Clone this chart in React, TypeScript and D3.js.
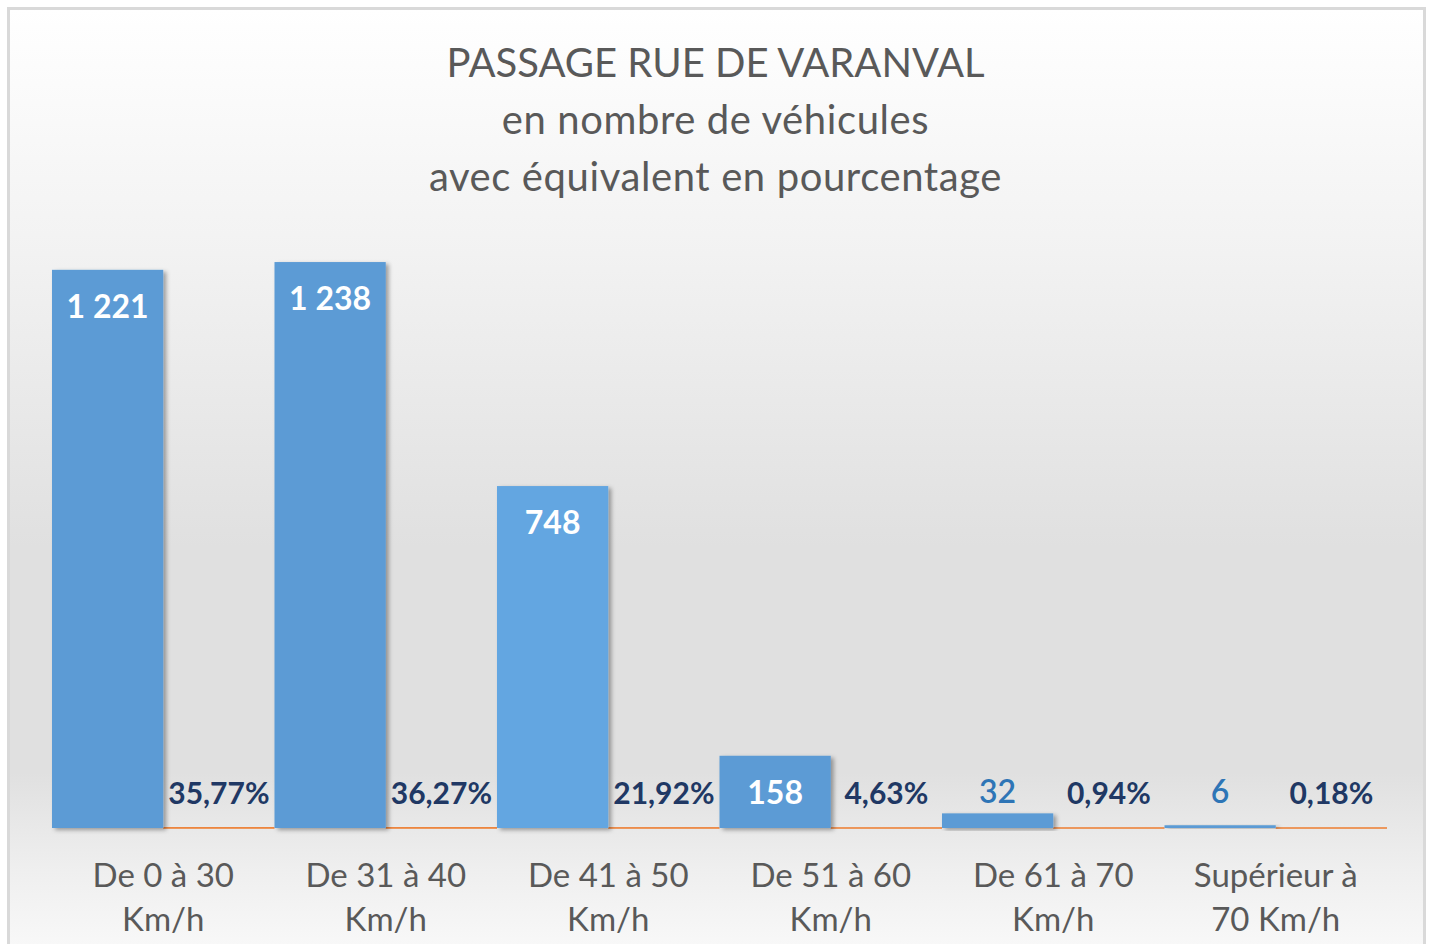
import { useRef, useEffect } from "react"
import * as d3 from "d3"

const categories = [
  "De 0 à 30 Km/h",
  "De 31 à 40 Km/h",
  "De 41 à 50 Km/h",
  "De 51 à 60 Km/h",
  "De 61 à 70 Km/h",
  "Supérieur à 70 Km/h",
]
const vehicleCounts = [1221, 1238, 748, 158, 32, 6]
const shares = [0.3577, 0.3627, 0.2192, 0.0463, 0.0094, 0.0018]
const titleLines = ["PASSAGE RUE DE VARANVAL", "en nombre de véhicules", "avec équivalent en pourcentage"]

const FONT = "Lato, 'Open Sans', sans-serif"

// greedy wrap for the category labels
const wrap = (label: string, maxChars: number) => {
  const lines: string[] = []
  let cur = ""
  label.split(" ").forEach((w) => {
    const next = cur ? cur + " " + w : w
    if (next.length > maxChars && cur) {
      lines.push(cur)
      cur = w
    } else cur = next
  })
  if (cur) lines.push(cur)
  return lines
}

const App = () => {
  const svgRef = useRef<SVGSVGElement>(null)

  useEffect(() => {
    const svg = d3.select(svgRef.current)
    svg.selectAll("*").remove()

    const W = 1431
    const H = 944

    const defs = svg.append("defs")
    const grad = defs
      .append("linearGradient")
      .attr("id", "bg")
      .attr("x1", 0)
      .attr("y1", 0)
      .attr("x2", 0)
      .attr("y2", 1)
    ;[
      [0, "#ffffff"],
      [0.25, "#f2f2f2"],
      [0.55, "#e0e0e0"],
      [0.78, "#e0e0e0"],
      [0.88, "#efefef"],
      [1, "#fdfdfd"],
    ].forEach(([o, c]) => grad.append("stop").attr("offset", o as number).attr("stop-color", c as string))

    const shadow = defs
      .append("filter")
      .attr("id", "shadow")
      .attr("x", "-10%")
      .attr("y", "-10%")
      .attr("width", "130%")
      .attr("height", "130%")
    shadow
      .append("feDropShadow")
      .attr("dx", 3)
      .attr("dy", 2)
      .attr("stdDeviation", 2)
      .attr("flood-color", "#000")
      .attr("flood-opacity", 0.35)

    // chart frame
    svg
      .append("rect")
      .attr("x", 8.5)
      .attr("y", 8.5)
      .attr("width", 1416)
      .attr("height", 980)
      .attr("fill", "url(#bg)")
      .attr("stroke", "#d9d9d9")
      .attr("stroke-width", 3)

    // title
    const title = svg
      .append("text")
      .attr("text-anchor", "middle")
      .style("font-family", FONT)
      .style("font-size", "40px")
      .style("fill", "#595959")
    titleLines.forEach((t, i) => {
      title
        .append("tspan")
        .attr("x", W / 2)
        .attr("y", 77 + i * 57)
        .style("letter-spacing", i === 0 ? "0px" : "0.6px")
        .text(t)
    })

    // scales
    const x = d3.scaleBand().domain(categories).range([52, 1387]).padding(0)
    const xSeries = d3.scaleBand().domain(["count", "share"]).range([0, x.bandwidth()]).padding(0)
    const y = d3.scaleLinear().domain([0, 1400]).range([828, 188])
    const y0 = y(0)

    // share series (tiny bars on the count scale -> orange line along the base)
    svg
      .append("g")
      .selectAll("rect")
      .data(shares)
      .enter()
      .append("rect")
      .attr("x", (_, i) => x(categories[i])! + xSeries("share")!)
      .attr("y", (d) => y(d) - 0.75)
      .attr("width", xSeries.bandwidth())
      .attr("height", (d) => y0 - y(d) + 1.5)
      .attr("fill", "#ed7d31")

    // count bars
    svg
      .append("g")
      .selectAll("rect")
      .data(vehicleCounts)
      .enter()
      .append("rect")
      .attr("x", (_, i) => x(categories[i])! + xSeries("count")!)
      .attr("y", (d) => y(d))
      .attr("width", xSeries.bandwidth())
      .attr("height", (d) => y0 - y(d))
      .attr("fill", (_, i) => (i === 2 ? "#63a6e1" : "#5b9bd5"))
      .attr("filter", "url(#shadow)")

    // count labels: inside end when the bar is tall enough, else above
    svg
      .append("g")
      .selectAll("text")
      .data(vehicleCounts)
      .enter()
      .append("text")
      .attr("text-anchor", "middle")
      .attr("x", (_, i) => x(categories[i])! + xSeries("count")! + xSeries.bandwidth() / 2)
      .attr("y", (d) => (y0 - y(d) > 60 ? y(d) + 48 : y0 - 25))
      .style("font-family", FONT)
      .style("font-size", "32px")
      .style("font-weight", (d) => (y0 - y(d) > 60 ? 700 : 600))
      .style("fill", (d) => (y0 - y(d) > 60 ? "#ffffff" : "#2e75b6"))
      .text((d) => d3.format(",")(d).replace(/,/g, " "))

    // share labels
    svg
      .append("g")
      .selectAll("text")
      .data(shares)
      .enter()
      .append("text")
      .attr("text-anchor", "middle")
      .attr("x", (_, i) => x(categories[i])! + xSeries("share")! + xSeries.bandwidth() / 2)
      .attr("y", (d) => y(d) - 24)
      .style("font-family", FONT)
      .style("font-size", "30px")
      .style("font-weight", 700)
      .style("fill", "#203864")
      .text((d) => (d * 100).toFixed(2).replace(".", ",") + "%")

    // category labels
    const cats = svg
      .append("g")
      .selectAll("text")
      .data(categories)
      .enter()
      .append("text")
      .attr("text-anchor", "middle")
      .style("font-family", FONT)
      .style("font-size", "33px")
      .style("fill", "#595959")
    cats.each(function (d) {
      const t = d3.select(this)
      wrap(d, 11).forEach((line, j) => {
        t.append("tspan")
          .attr("x", x(d)! + x.bandwidth() / 2)
          .attr("y", 887 + j * 44)
          .text(line)
      })
    })

    svg.attr("width", W).attr("height", H)
  }, [])

  return (
    <div style={{ position: "absolute", left: 0, top: 0 }}>
      <svg ref={svgRef} style={{ display: "block" }}></svg>
    </div>
  )
}

export default App
